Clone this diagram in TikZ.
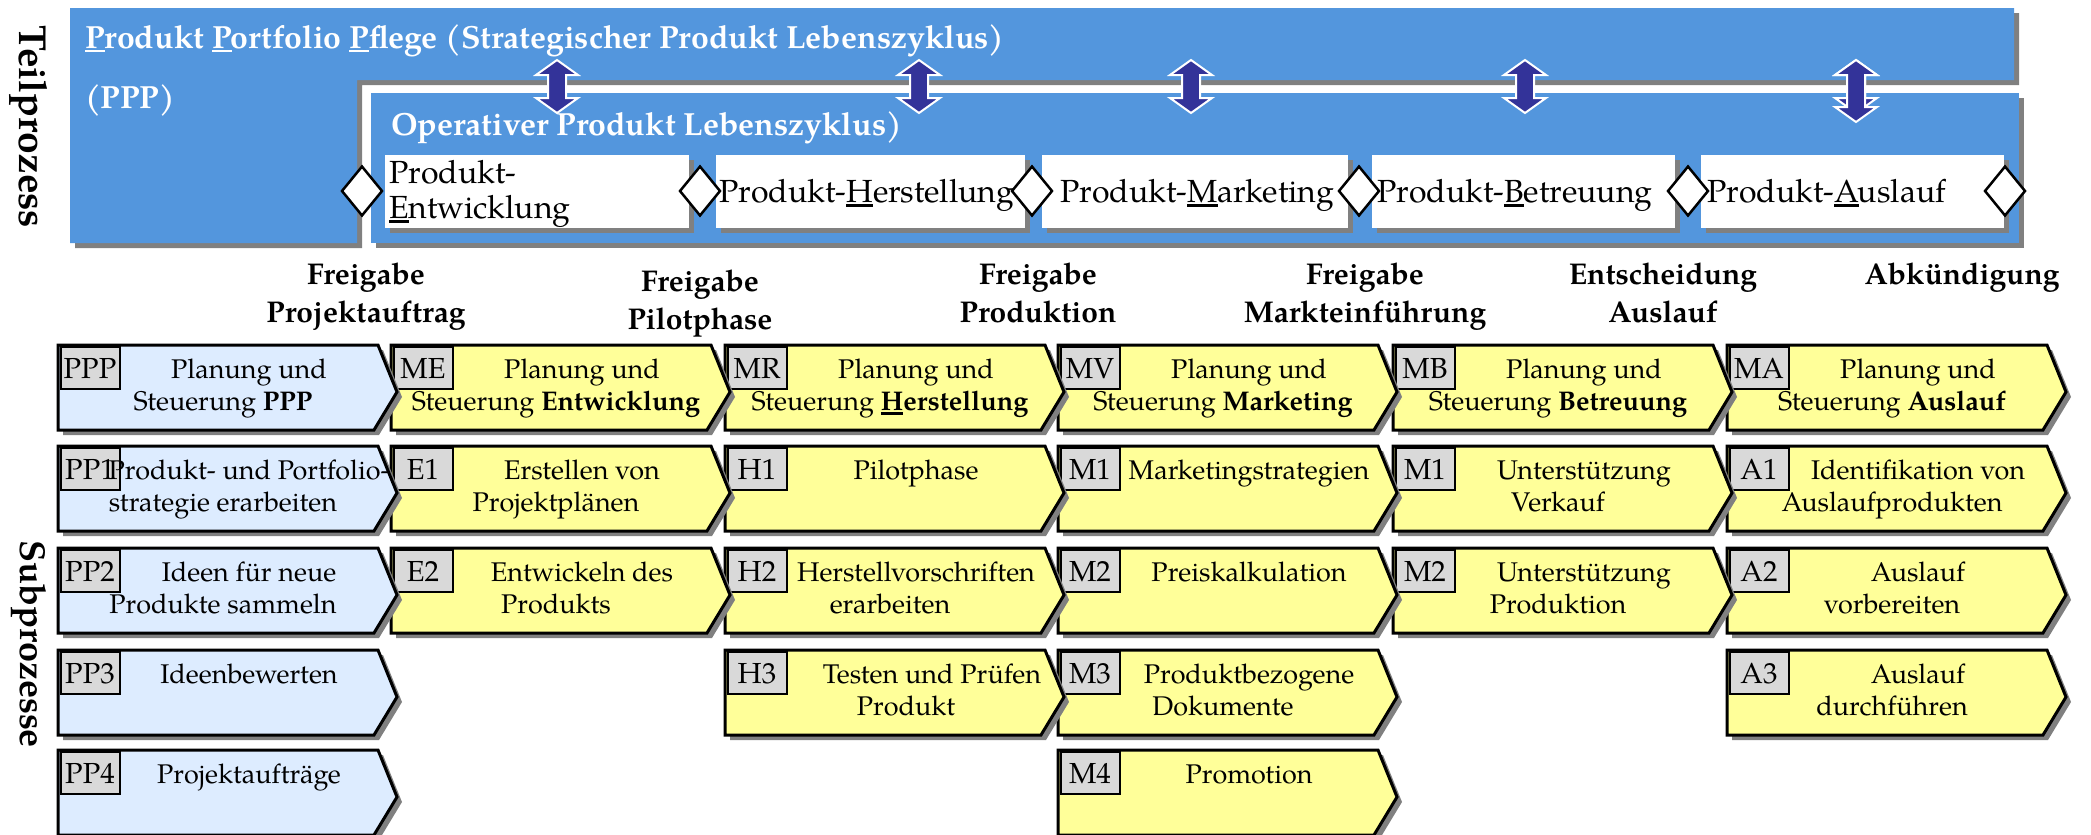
\documentclass[tikz,border=0pt]{standalone}
\usepackage{fontspec}
\setmainfont{TeX Gyre Pagella}
\usetikzlibrary{shapes.geometric}
\definecolor{pblue}{RGB}{83,150,221}
\definecolor{darrow}{RGB}{51,51,153}
\definecolor{lblue}{RGB}{221,236,255}
\definecolor{lyellow}{RGB}{255,255,153}
\definecolor{lgray}{RGB}{217,217,217}
\definecolor{sgray}{RGB}{128,128,128}
\newlength\myulw
\newcommand\myul[1]{\settowidth{\myulw}{#1}\rlap{\rule[-4.5pt]{\myulw}{2.2pt}}#1}
\tikzset{
  chevtext/.style={anchor=base, inner sep=0pt, font=\fontsize{27}{32}\selectfont},
  lbltext/.style={anchor=base, inner sep=0pt, font=\fontsize{29}{34}\selectfont},
  chevline/.style={draw=black, line width=3pt, line join=miter},
  lblline/.style={draw=black, line width=2.5pt},
  titletext/.style={anchor=base west, inner sep=0pt, text=white, font=\bfseries\fontsize{32}{38}\selectfont},
  boxtext/.style={anchor=base west, inner sep=0pt, font=\fontsize{32}{37}\selectfont},
  mstext/.style={anchor=base, inner sep=0pt, font=\bfseries\fontsize{30}{36}\selectfont},
  vtext/.style={rotate=-90, inner sep=0pt, font=\bfseries\fontsize{36}{40}\selectfont},
  diam/.style={diamond, draw=black, fill=white, line width=2.5pt, inner sep=0pt, minimum width=41pt, minimum height=50pt},
  arrowshape/.style={fill=darrow, draw=white, line width=2pt, line join=miter}
}
% #1 name, #2 left, #3 top, #4 fill, #5 id, #6 line 1, #7 line 2, #8 text shift
\newcommand\mychev[8]{%
  \begin{scope}[shift={(#2,#3)}]
    \fill[sgray] (5,5) -- (325,5) -- (344,52) -- (321,90) -- (5,90) -- cycle;
    \filldraw[fill=#4, chevline] (0,0) -- (320,0) -- (339,47) -- (316,85) -- (0,85) -- cycle;
    \filldraw[fill=lgray, lblline] (3,2) rectangle (62,44);
    \node[lbltext] (#1-id) at (32,33) {#5};
    \node[chevtext] (#1-a) at (191+#8,33) {#6};
    \if\relax\detokenize{#7}\relax\else
      \node[chevtext] (#1-b) at (165+#8,65) {#7};
    \fi
  \end{scope}}
% #1 x, #2 top, #3 bottom
\newcommand\mydblarrow[3]{%
  \filldraw[arrowshape] (#1,#2) -- (#1+21,#2+15) -- (#1+9,#2+15) -- (#1+9,#3-15)
    -- (#1+21,#3-15) -- (#1,#3) -- (#1-21,#3-15) -- (#1-9,#3-15) -- (#1-9,#2+15)
    -- (#1-21,#2+15) -- cycle;}
% #1 x1, #2 x2
\newcommand\mywbox[2]{%
  \fill[sgray] (#1+5,160) rectangle (#2+5,233);
  \fill[white] (#1,155) rectangle (#2,228);}
\begin{document}
\begin{tikzpicture}[x=1pt,y=-1pt]
\useasboundingbox (0,0) rectangle (2091,835);
% ---------- Teilprozess ----------
\fill[sgray] (75,13) -- (2019,13) -- (2019,85) -- (362,85) -- (362,248) -- (75,248) -- cycle;
\fill[pblue] (70,8) -- (2014,8) -- (2014,80) -- (357,80) -- (357,243) -- (70,243) -- cycle;
\fill[sgray] (376,98) rectangle (2024,248);
\fill[pblue] (371,93) rectangle (2019,243);
\node[titletext] (t1) at (85,48) {\myul{P}rodukt \myul{P}ortfolio \myul{P}flege (Strategischer Produkt Lebenszyklus)};
\node[titletext] (t2) at (85,108) {(PPP)};
\node[titletext] (t3) at (391,135) {Operativer Produkt Lebenszyklus)};
\mywbox{385}{689}
\mywbox{716}{1025}
\mywbox{1042}{1348}
\mywbox{1372}{1675}
\mywbox{1701}{2004}
\node[boxtext] (b1a) at (389,183) {Produkt-};
\node[boxtext] (b1b) at (389,218) {\myul{E}ntwicklung};
\node[boxtext] (b2) at (719,202) {Produkt-\myul{H}erstellung};
\node[boxtext] (b3) at (1060,202) {Produkt-\myul{M}arketing};
\node[boxtext] (b4) at (1377,202) {Produkt-\myul{B}etreuung};
\node[boxtext] (b5) at (1707,202) {Produkt-\myul{A}uslauf};
\node[diam] (d1) at (362,191) {};
\node[diam] (d2) at (700,191) {};
\node[diam] (d3) at (1032,191) {};
\node[diam] (d4) at (1359,191) {};
\node[diam] (d5) at (1688,191) {};
\node[diam] (d6) at (2005,191) {};
\mydblarrow{557}{60}{113}
\mydblarrow{919}{60}{113}
\mydblarrow{1191}{60}{113}
\mydblarrow{1525}{60}{113}
\mydblarrow{1856}{60}{113}
\mydblarrow{1856}{60}{122}
\node[vtext, font=\bfseries\fontsize{39}{42}\selectfont] (tp) at (29,127) {Teilprozess};
\node[vtext] (sp) at (29,644) {Subprozesse};
% ---------- Meilensteine ----------
\node[mstext] (m1a) at (366,284) {Freigabe};
\node[mstext] (m1b) at (366,322) {Projektauftrag};
\node[mstext] (m2a) at (700,291) {Freigabe};
\node[mstext] (m2b) at (700,329) {Pilotphase};
\node[mstext] (m3a) at (1038,284) {Freigabe};
\node[mstext] (m3b) at (1038,322) {Produktion};
\node[mstext] (m4a) at (1365,284) {Freigabe};
\node[mstext] (m4b) at (1365,322) {Markteinführung};
\node[mstext] (m5a) at (1663,284) {Entscheidung};
\node[mstext] (m5b) at (1663,322) {Auslauf};
\node[mstext] (m6a) at (1962,284) {Abkündigung};
% ---------- Subprozesse (right to left) ----------
\mychev{ma}{1727}{345}{lyellow}{MA}{Planung und}{Steuerung \textbf{Auslauf}}{0}
\mychev{aa}{1727}{446}{lyellow}{A1}{Identifikation von}{Auslaufprodukten}{0}
\mychev{ab}{1727}{548}{lyellow}{A2}{Auslauf}{vorbereiten}{0}
\mychev{ac}{1727}{650}{lyellow}{A3}{Auslauf}{durchführen}{0}
\mychev{mb}{1393}{345}{lyellow}{MB}{Planung und}{Steuerung \textbf{Betreuung}}{0}
\mychev{ba}{1393}{446}{lyellow}{M1}{Unterstützung}{Verkauf}{0}
\mychev{bb}{1393}{548}{lyellow}{M2}{Unterstützung}{Produktion}{0}
\mychev{mv}{1058}{345}{lyellow}{MV}{Planung und}{Steuerung \textbf{Marketing}}{0}
\mychev{va}{1058}{446}{lyellow}{M1}{Marketingstrategien}{}{0}
\mychev{vb}{1058}{548}{lyellow}{M2}{Preiskalkulation}{}{0}
\mychev{vc}{1058}{650}{lyellow}{M3}{Produktbezogene}{Dokumente}{0}
\mychev{vd}{1058}{750}{lyellow}{M4}{Promotion}{}{0}
\mychev{mr}{725}{345}{lyellow}{MR}{Planung und}{Steuerung \textbf{\myul{H}erstellung}}{0}
\mychev{ha}{725}{446}{lyellow}{H1}{Pilotphase}{}{0}
\mychev{hb}{725}{548}{lyellow}{H2}{Herstellvorschriften}{erarbeiten}{0}
\mychev{hc}{725}{650}{lyellow}{H3}{Testen und Prüfen}{Produkt}{16}
\mychev{me}{391}{345}{lyellow}{ME}{Planung und}{Steuerung \textbf{Entwicklung}}{0}
\mychev{ea}{391}{446}{lyellow}{E1}{Erstellen von}{Projektplänen}{0}
\mychev{eb}{391}{548}{lyellow}{E2}{Entwickeln des}{Produkts}{0}
\mychev{ppp}{58}{345}{lblue}{PPP}{Planung und}{Steuerung \textbf{PPP}}{0}
\mychev{pa}{58}{446}{lblue}{PP1}{Produkt- und Portfolio-}{strategie erarbeiten}{0}
\mychev{pb}{58}{548}{lblue}{PP2}{Ideen für neue}{Produkte sammeln}{0}
\mychev{pc}{58}{650}{lblue}{PP3}{Ideenbewerten}{}{0}
\mychev{pd}{58}{750}{lblue}{PP4}{Projektaufträge}{}{0}
\end{tikzpicture}
\end{document}
